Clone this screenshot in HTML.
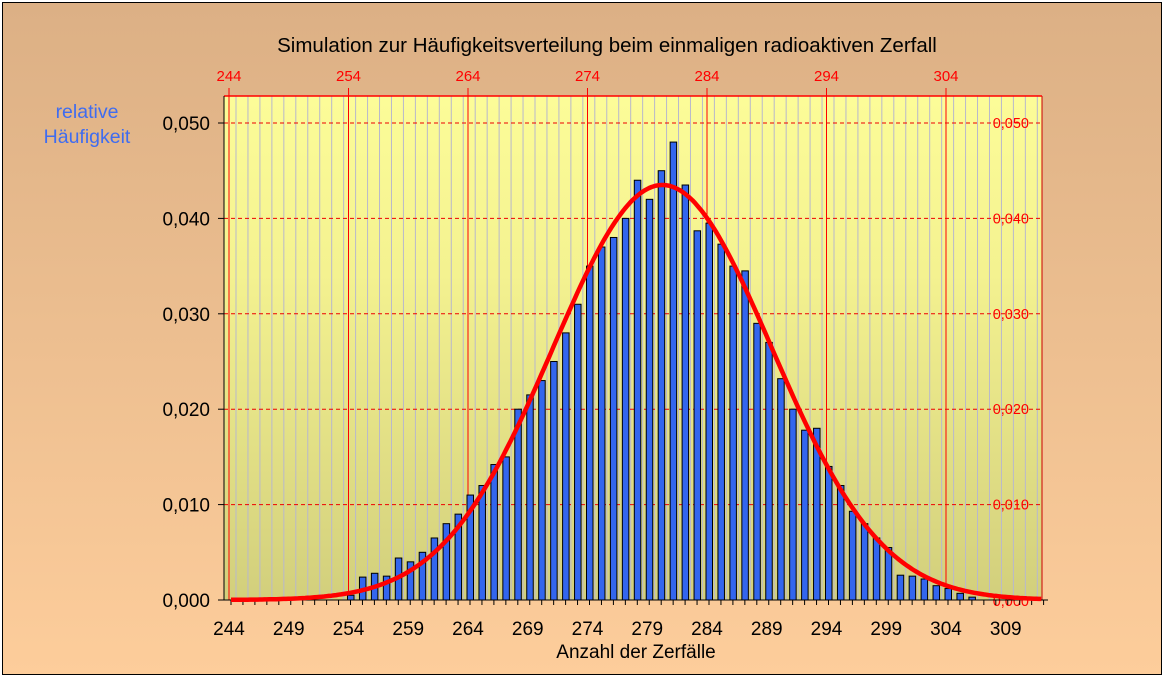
<!DOCTYPE html><html><head><style>body{margin:0;background:#fff}</style></head><body>
<svg id="s" width="1165" height="678" xmlns="http://www.w3.org/2000/svg" font-family="Liberation Sans, sans-serif">
<defs>
<linearGradient id="bg" x1="0" y1="0" x2="0" y2="1"><stop offset="0" stop-color="#dcb085"/><stop offset="1" stop-color="#fdcd9b"/></linearGradient>
<linearGradient id="pl" x1="0" y1="0" x2="0" y2="1"><stop offset="0" stop-color="#fcfc98"/><stop offset="0.35" stop-color="#f4f290"/><stop offset="1" stop-color="#d2cf7c"/></linearGradient>
</defs>
<rect x="0" y="0" width="1165" height="678" fill="#fff"/>
<rect x="2.5" y="2.5" width="1159" height="672" fill="url(#bg)" stroke="#000" stroke-width="1"/>
<rect x="224" y="96" width="818" height="504" fill="url(#pl)"/>
<g id="g"></g>
<text x="607" y="52" text-anchor="middle" font-size="20.5" fill="#000">Simulation zur Häufigkeitsverteilung beim einmaligen radioaktiven Zerfall</text>
<text x="87" y="118" text-anchor="middle" font-size="19.5" fill="#3f6cf0">relative</text>
<text x="87" y="143" text-anchor="middle" font-size="19.5" fill="#3f6cf0">Häufigkeit</text>
<text x="636" y="658" text-anchor="middle" font-size="19" fill="#000">Anzahl der Zerfälle</text>
</svg>
<script>
const g=document.getElementById('g');let h='';
const X=v=>229+(v-244)*11.95, Y=p=>600-p*9540;
for(let x=236;x<1042;x+=11.96)h+=`<line x1="${x}" y1="96" x2="${x}" y2="600" stroke="#b8b8cc" stroke-width="1"/>`;
for(let v=244;v<=304;v+=10)h+=`<line x1="${X(v)}" y1="88" x2="${X(v)}" y2="600" stroke="#f00" stroke-width="1"/>`;
h+=`<line x1="1042" y1="96" x2="1042" y2="600" stroke="#c00" stroke-width="1"/>`;
h+=`<line x1="224" y1="96" x2="1042" y2="96" stroke="#f00" stroke-width="1.5"/>`;
for(let i=1;i<=5;i++){const y=Y(i*0.01);h+=`<line x1="224" y1="${y}" x2="1042" y2="${y}" stroke="#e00" stroke-dasharray="4,3"/>`;
h+=`<text x="1029" y="${y+5}" text-anchor="end" font-size="14.5" fill="#f00">0,0${i}0</text>`;}
h+=`<text x="1029" y="606" text-anchor="end" font-size="14.5" fill="#f00">0,000</text>`;
h+=`<line x1="224" y1="96" x2="224" y2="600" stroke="#000"/>`;
for(let i=0;i<=5;i++){const y=Y(i*0.01);h+=`<line x1="218" y1="${y}" x2="224" y2="${y}" stroke="#000"/><text x="210" y="${y+7}" text-anchor="end" font-size="19">0,0${i}0</text>`;}
const d={254:0.0005,255:0.0024,256:0.0028,257:0.0025,258:0.0044,259:0.004,260:0.005,261:0.0065,262:0.008,263:0.009,264:0.011,265:0.012,266:0.0142,267:0.015,268:0.020,269:0.0215,270:0.023,271:0.025,272:0.028,273:0.031,274:0.035,275:0.037,276:0.038,277:0.040,278:0.044,279:0.042,280:0.045,281:0.048,282:0.0435,283:0.0387,284:0.0395,285:0.0373,286:0.035,287:0.0345,288:0.029,289:0.027,290:0.0232,291:0.020,292:0.0178,293:0.018,294:0.014,295:0.012,296:0.0093,297:0.008,298:0.0065,299:0.0055,300:0.0026,301:0.0025,302:0.0022,303:0.0015,304:0.0012,305:0.0007,306:0.0003};
for(const k in d){const x=X(+k)+2-3,y=Y(d[k]);h+=`<rect x="${x}" y="${y}" width="6.5" height="${600-y}" fill="#3366ee" stroke="#000" stroke-width="1"/>`;}
h+=`<line x1="224" y1="600" x2="1048" y2="600" stroke="#000"/>`;
for(let v=244;v<=312;v++){const x=X(v)+2;h+=`<line x1="${x}" y1="600" x2="${x}" y2="605" stroke="#000"/>`;}
for(let v=244;v<=309;v+=5)h+=`<text x="${X(v)}" y="635" text-anchor="middle" font-size="19">${v}</text>`;
for(let v=244;v<=304;v+=10)h+=`<text x="${X(v)}" y="81" text-anchor="middle" font-size="15" fill="#f00">${v}</text>`;
let p='';for(let v=244;v<=311.8;v+=0.2){const f=0.0435*Math.exp(-((v-280.1)**2)/(2*9.17*9.17));p+=(p?'L':'M')+(231+(v-244)*11.95).toFixed(1)+','+Y(f).toFixed(1);}
h+=`<path d="${p}" fill="none" stroke="#f00" stroke-width="4.5" stroke-linejoin="round"/>`;
g.innerHTML=h;
</script>
</body></html>
